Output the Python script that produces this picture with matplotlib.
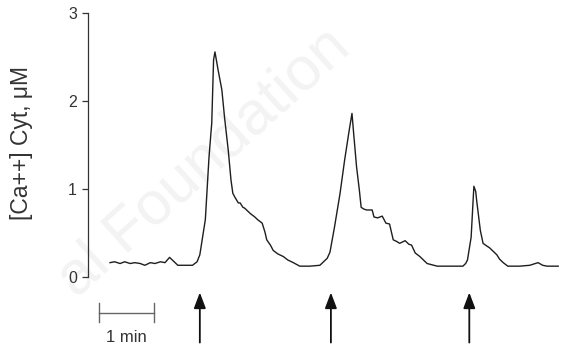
import matplotlib
matplotlib.use("Agg")
import matplotlib.pyplot as plt

# time (s) and cytosolic Ca++ (uM)
time_s = [24, 29, 35, 40, 46, 51, 57, 62, 68, 73, 79, 84, 89, 94, 98, 106,
          114, 119, 122, 128, 132, 135, 137, 138.5, 142, 146, 149, 153, 156,
          158, 160, 164, 166, 169, 171, 176, 177, 182, 185, 190, 193, 195,
          199, 202, 207, 213, 218, 224, 231, 242, 253, 258, 261, 264, 269,
          275, 280, 285, 288, 290, 293, 296, 298, 301, 304, 310, 312, 316,
          321, 325, 329, 333, 337, 340, 346, 350, 353, 357, 362, 366, 370,
          381, 395, 404, 409, 412, 414, 418, 420, 421, 423, 424, 428, 431,
          435, 438, 443, 446, 449, 453, 458, 471, 482, 491, 496, 501, 513]
ca_uM = [0.16, 0.17, 0.15, 0.17, 0.15, 0.16, 0.15, 0.13, 0.16, 0.15, 0.17,
         0.16, 0.22, 0.17, 0.13, 0.13, 0.13, 0.17, 0.25, 0.65, 1.36, 1.75,
         2.47, 2.56, 2.35, 2.13, 1.81, 1.44, 1.10, 0.95, 0.91, 0.84, 0.84,
         0.79, 0.78, 0.73, 0.72, 0.68, 0.65, 0.61, 0.51, 0.42, 0.36, 0.30,
         0.26, 0.23, 0.19, 0.16, 0.12, 0.12, 0.13, 0.18, 0.21, 0.28, 0.57,
         0.95, 1.33, 1.67, 1.86, 1.61, 1.25, 0.99, 0.79, 0.77, 0.76, 0.76,
         0.68, 0.67, 0.69, 0.61, 0.60, 0.42, 0.40, 0.38, 0.41, 0.37, 0.36,
         0.27, 0.23, 0.19, 0.15, 0.12, 0.12, 0.12, 0.12, 0.15, 0.19, 0.45,
         0.84, 1.03, 0.97, 0.87, 0.53, 0.38, 0.35, 0.33, 0.28, 0.25, 0.20,
         0.16, 0.12, 0.12, 0.13, 0.16, 0.13, 0.12, 0.12]

stim_times = [122, 265, 416]   # arrows under the trace
scale_start, scale_len = 12, 60  # 1 min scale bar
y_ticks = [0, 1, 2, 3]

plt.rcParams['font.family'] = ['Liberation Sans', 'DejaVu Sans']

fig = plt.figure(figsize=(5.66, 3.47), dpi=100)
ax = fig.add_axes([0.1555, 0.2026, 0.8445, 0.7591])

# faint watermark in the background
fig.text(0.36, 0.53, "al Foundation", rotation=42, fontsize=44,
         color='#f3f3f3', ha='center', va='center', zorder=-5)
ax.patch.set_alpha(0)

ax.plot(time_s, ca_uM, color='#1e1e1e', lw=1.0)

ax.set_xlim(0, 521.5)
ax.set_ylim(0, 3)
for s in ['top', 'right', 'bottom']:
    ax.spines[s].set_visible(False)
ax.spines['left'].set_color('#333333')
ax.spines['left'].set_linewidth(0.9)
ax.set_xticks([])
ax.set_yticks(y_ticks)
ax.tick_params(axis='y', direction='out', length=4, width=0.9,
               color='#333333', labelsize=11.5, labelcolor='#333333', pad=4)
ax.set_ylabel("[Ca++] Cyt, \u03bcM", fontsize=16.5, color='#333333')
ax.yaxis.set_label_coords(-0.115, 0.508)

# 1 min scale bar
bar_y = -0.413
ax.plot([scale_start, scale_start + scale_len], [bar_y, bar_y],
        color='#666666', lw=1.0, clip_on=False)
for xb in (scale_start, scale_start + scale_len):
    ax.plot([xb, xb], [-0.30, -0.52], color='#666666', lw=1.0, clip_on=False)
ax.text(scale_start + scale_len / 2, -0.69, "1 min", ha='center', va='center',
        fontsize=12, color='#333333', clip_on=False)

# stimulation arrows
for t in stim_times:
    ax.annotate("", xy=(t, -0.18), xytext=(t, -0.75),
                xycoords='data', textcoords='data', annotation_clip=False,
                arrowprops=dict(arrowstyle='-|>,head_length=0.95,head_width=0.36',
                                color='#111111', lw=1.3, shrinkA=0, shrinkB=0))

fig.savefig("out.png", dpi=100)
